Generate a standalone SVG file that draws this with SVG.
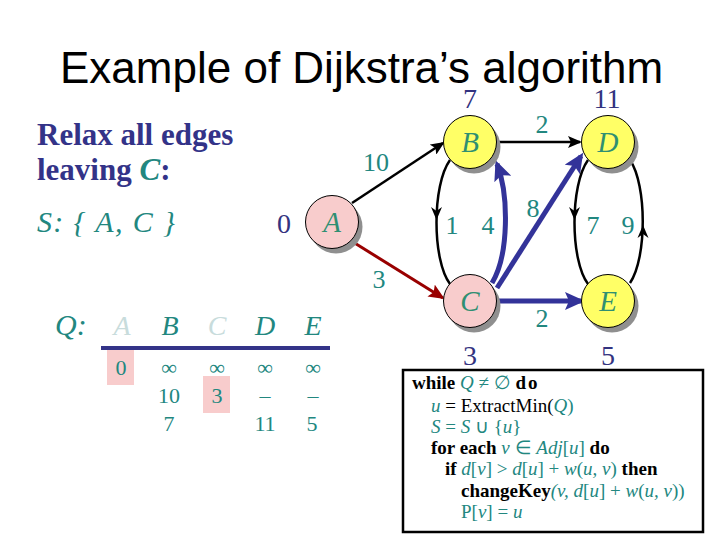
<svg xmlns="http://www.w3.org/2000/svg" width="720" height="540" viewBox="0 0 720 540">
<style>
.title{font-family:"Liberation Sans",Arial,sans-serif;font-size:44px;fill:#000}
.serif{font-family:"Liberation Serif","Times New Roman",serif}
.head{font-family:"Liberation Serif","Times New Roman",serif;font-weight:bold;font-size:31px;fill:#333388}
.it{font-style:italic}
.teal{fill:#22877F}
.dist{font-family:"Liberation Serif","Times New Roman",serif;font-size:28px;fill:#333380;text-anchor:middle}
.w{font-family:"Liberation Serif","Times New Roman",serif;font-size:26px;fill:#22877F;text-anchor:middle}
.nl{font-family:"Liberation Serif","Times New Roman",serif;font-style:italic;font-size:29px;fill:#2F8F72;text-anchor:middle}
.shadow{fill:#8f8f8f}
.pink{fill:#F8CCCC;stroke:#000;stroke-width:1}
.yellow{fill:#FFFF66;stroke:#000;stroke-width:1}
.blk{fill:none;stroke:#000;stroke-width:2.5}
.blue{fill:none;stroke:#333399;stroke-width:5}
.red{fill:none;stroke:#990000;stroke-width:3}
.qh{font-family:"Liberation Serif","Times New Roman",serif;font-style:italic;font-size:28px;fill:#22877F;text-anchor:middle}
.qf{fill:#C8DCDC}
.qv{font-family:"Liberation Serif","Times New Roman",serif;font-size:22px;fill:#22877F;text-anchor:middle}
.code{font-family:"Liberation Serif","Times New Roman",serif;font-size:19px;fill:#000}
.kw{font-weight:bold;fill:#000}
.m{fill:#22877F}
.mi{fill:#22877F;font-style:italic}
</style>
<defs>
<marker id="ah-black" markerUnits="userSpaceOnUse" markerWidth="14" markerHeight="12" viewBox="0 0 14 12" refX="12" refY="6" orient="auto">
<path d="M0,0 L14,6 L0,12 L3,6 z" fill="#000"/>
</marker>
<marker id="ah-blue" markerUnits="userSpaceOnUse" markerWidth="20" markerHeight="18" viewBox="0 0 20 18" refX="16" refY="9" orient="auto">
<path d="M0,0 L20,9 L0,18 L4,9 z" fill="#333399"/>
</marker>
<marker id="ah-red" markerUnits="userSpaceOnUse" markerWidth="16" markerHeight="14" viewBox="0 0 16 14" refX="14" refY="7" orient="auto">
<path d="M0,0 L16,7 L0,14 L3,7 z" fill="#990000"/>
</marker>
</defs>
<rect width="720" height="540" fill="#fff"/>

<text class="title" x="60" y="83">Example of Dijkstra’s algorithm</text>

<text class="head" x="37" y="145">Relax all edges</text>
<text class="head" x="37" y="180">leaving <tspan class="it teal">C</tspan>:</text>
<text class="serif it teal" x="37" y="232" font-size="30" textLength="138">S: { A, C }</text>

<g id="connectors">
<path class="blk" d="M352,203 L443,143" marker-end="url(#ah-black)"/>
<path class="blk" d="M497,142 L580,142" marker-end="url(#ah-black)"/>
<path class="red" d="M353,242 L443,298" marker-end="url(#ah-red)"/>
<path class="blk" d="M450,160 C432,185 432,260 450,284"/>
<polygon points="431,207 436.5,220 442,207 436.5,211" fill="#000"/>
<path class="blue" d="M492,283 C509,255 509,195 497,164" marker-end="url(#ah-blue)"/>
<path class="blue" d="M497,288 L581,156" marker-end="url(#ah-blue)"/>
<path class="blue" d="M497,301 L581,301" marker-end="url(#ah-blue)"/>
<path class="blk" d="M588,160 C570,185 570,260 588,284"/>
<polygon points="569,207 574.5,220 580,207 574.5,211" fill="#000"/>
<path class="blk" d="M630,283 C647,258 647,185 630,160"/>
<polygon points="637.5,238 643,225 648.5,238 643,234" fill="#000"/>
<text class="w" x="376" y="171">10</text>
<text class="w" x="542" y="133">2</text>
<text class="w" x="533" y="217">8</text>
<text class="w" x="452" y="234">1</text>
<text class="w" x="488" y="234">4</text>
<text class="w" x="593" y="234">7</text>
<text class="w" x="628" y="234">9</text>
<text class="w" x="379" y="288">3</text>
<text class="w" x="542" y="327">2</text>
</g>

<g id="node-A">
<circle class="shadow" cx="336" cy="227" r="26.5"/>
<circle class="pink" cx="332" cy="222" r="26.5"/>
<text class="nl" x="332" y="232">A</text>
<text class="dist" x="284" y="233">0</text>
</g>
<g id="node-B">
<circle class="shadow" cx="474" cy="147" r="26.5"/>
<circle class="yellow" cx="470" cy="142" r="26.5"/>
<text class="nl" x="470" y="152">B</text>
<text class="dist" x="470" y="108">7</text>
</g>
<g id="node-D">
<circle class="shadow" cx="612" cy="147" r="26.5"/>
<circle class="yellow" cx="608" cy="142" r="26.5"/>
<text class="nl" x="608" y="152">D</text>
<text class="dist" x="607" y="108">11</text>
</g>
<g id="node-C">
<circle class="shadow" cx="474" cy="306" r="26.5"/>
<circle class="pink" cx="470" cy="301" r="26.5"/>
<text class="nl" x="470" y="311">C</text>
<text class="dist" x="470" y="365">3</text>
</g>
<g id="node-E">
<circle class="shadow" cx="612" cy="306" r="26.5"/>
<circle class="yellow" cx="608" cy="301" r="26.5"/>
<text class="nl" x="608" y="311">E</text>
<text class="dist" x="608" y="365">5</text>
</g>

<g id="queue-table">
<text class="serif it teal" x="55" y="335" font-size="30">Q:</text>
<text class="qh qf" x="122" y="335">A</text>
<text class="qh" x="170" y="335">B</text>
<text class="qh qf" x="217" y="335">C</text>
<text class="qh" x="265" y="335">D</text>
<text class="qh" x="313" y="335">E</text>
<line x1="101" y1="348" x2="330" y2="348" stroke="#333388" stroke-width="4"/>
<rect x="107" y="350" width="27" height="35" fill="#F8CCCC"/>
<rect x="203" y="376" width="27" height="37" fill="#F8CCCC"/>
<text class="qv" x="121" y="375">0</text>
<text class="qv" x="169" y="375">∞</text>
<text class="qv" x="217" y="375">∞</text>
<text class="qv" x="265" y="375">∞</text>
<text class="qv" x="313" y="375">∞</text>
<text class="qv" x="169" y="403">10</text>
<text class="qv" x="217" y="403">3</text>
<text class="qv" x="265" y="403">–</text>
<text class="qv" x="313" y="403">–</text>
<text class="qv" x="169" y="431">7</text>
<text class="qv" x="265" y="431">11</text>
<text class="qv" x="312" y="431">5</text>
</g>

<g id="code-box">
<rect x="403" y="370" width="300" height="162" fill="#fff" stroke="#000" stroke-width="2.5"/>
<text class="code" x="412" y="389"><tspan class="kw">while</tspan> <tspan class="mi">Q</tspan> <tspan class="m">≠</tspan> <tspan class="m">∅</tspan> <tspan class="kw" letter-spacing="2">do</tspan></text>
<text class="code" x="431" y="412"><tspan class="mi">u</tspan> = ExtractMin(<tspan class="mi">Q</tspan><tspan class="m">)</tspan></text>
<text class="code" x="431" y="433"><tspan class="mi">S</tspan><tspan class="m"> = </tspan><tspan class="mi">S</tspan><tspan class="m"> ∪ {</tspan><tspan class="mi">u</tspan><tspan class="m">}</tspan></text>
<text class="code" x="431" y="454"><tspan class="kw">for each</tspan> <tspan class="mi">v</tspan><tspan class="m"> ∈ </tspan><tspan class="mi">Adj</tspan><tspan class="m">[</tspan><tspan class="mi">u</tspan><tspan class="m">]</tspan> <tspan class="kw">do</tspan></text>
<text class="code" x="445" y="475"><tspan class="kw">if</tspan> <tspan class="mi">d</tspan><tspan class="m">[</tspan><tspan class="mi">v</tspan><tspan class="m">] &gt; </tspan><tspan class="mi">d</tspan><tspan class="m">[</tspan><tspan class="mi">u</tspan><tspan class="m">] + </tspan><tspan class="mi">w</tspan><tspan class="m">(</tspan><tspan class="mi">u, v</tspan><tspan class="m">)</tspan> <tspan class="kw">then</tspan></text>
<text class="code" x="461" y="497"><tspan class="kw">changeKey</tspan><tspan class="mi">(v, d</tspan><tspan class="m">[</tspan><tspan class="mi">u</tspan><tspan class="m">] + </tspan><tspan class="mi">w</tspan><tspan class="m">(</tspan><tspan class="mi">u, v</tspan><tspan class="m">))</tspan></text>
<text class="code" x="461" y="518"><tspan class="m">P[</tspan><tspan class="mi">v</tspan><tspan class="m">] = </tspan><tspan class="mi">u</tspan></text>
</g>
</svg>
